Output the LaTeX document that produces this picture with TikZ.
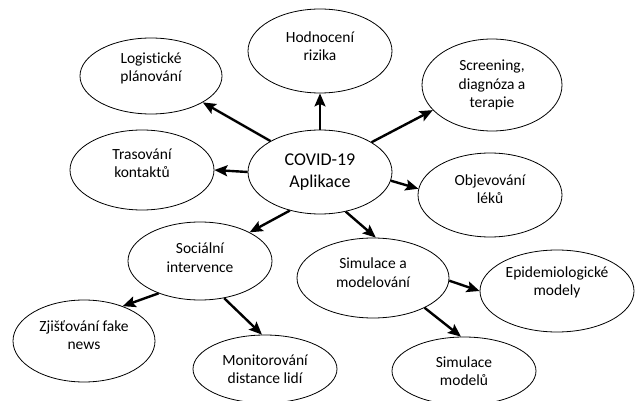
\documentclass[tikz,border=0pt]{standalone}
\usepackage{fontspec}
\setmainfont{Carlito}[Ligatures=NoCommon]
\usetikzlibrary{arrows.meta}
\tikzset{>={Stealth[length=13pt,width=11pt,inset=2.5pt]}}
\usetikzlibrary{shapes.geometric}
\tikzset{
  bubble/.style={ellipse, draw, line width=0.8pt, inner sep=0pt, align=center,
    minimum width=144pt, minimum height=80pt, font=\fontsize{15.5}{18.5}\selectfont},
  % pushes the text a little above the middle of the ellipse
  lift/.style={text depth=#1},
  link/.style={->, line width=2.4pt}
}

\begin{document}
\begin{tikzpicture}[x=1pt,y=-1pt]
  \useasboundingbox (0,0) rectangle (635,401);
  % middle
  \node[bubble, minimum height=84pt, font=\fontsize{18}{22.5}\selectfont] (app) at (320,172) {COVID-19\\Aplikace};
  % ring round it
  \node[bubble, lift=18pt, minimum width=142pt, minimum height=76pt] (log) at (151,76) {Logistické\\plánování};
  \node[bubble, lift=10pt, minimum height=84pt] (risk) at (320,51) {Hodnocení\\rizika};
  \node[bubble, minimum width=140pt, minimum height=92pt] (scr) at (492,85) {Screening,\\diagnóza a\\terapie};
  \node[bubble, lift=14pt] (tras) at (142,170) {Trasování\\kontaktů};
  \node[bubble, lift=12pt, minimum height=84pt] (lek) at (490,195) {Objevování\\léků};
  \node[bubble, lift=7pt, minimum height=78pt] (soc) at (200,261) {Sociální\\intervence};
  \node[bubble, lift=11pt, minimum width=152pt] (sim) at (373,278) {Simulace a\\modelování};
  % outer
  \node[bubble, lift=20pt, minimum width=154pt, minimum height=82pt] (epi) at (557,291) {Epidemiologické\\modely};
  \node[bubble, lift=12pt, minimum width=142pt, minimum height=82pt] (fake) at (84,341) {Zjišťování fake\\news};
  \node[bubble, minimum height=68pt] (dist) at (265,369) {Monitorování\\distance lidí};
  \node[bubble, minimum height=68pt] (simmod) at (464,371) {Simulace\\modelů};

  \draw[link] (app.148) -- (log.-27);
  \draw[link] (app.90) -- (risk.270);
  \draw[link] (app.30) -- (scr.203);
  \draw[link] (app.180) -- (tras.0);
  \draw[link] (app.-7) -- (lek.175);
  \draw[link] (app.232) -- (soc.30);
  \draw[link] (app.-57) -- (sim.86);
  \draw[link] (soc.218) -- (fake.42);
  \draw[link] (soc.-57) -- (dist.95);
  \draw[link] (sim.-2) -- (epi.180);
  \draw[link] (sim.-30) -- (simmod.95);
\end{tikzpicture}
\end{document}
